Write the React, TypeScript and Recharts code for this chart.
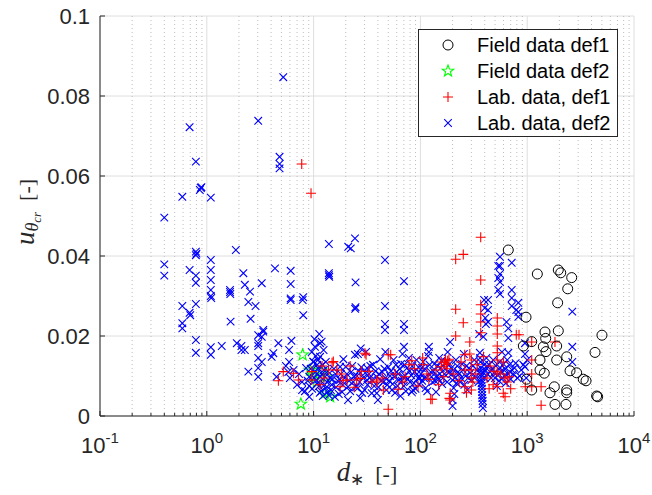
import React from 'react';
import { ScatterChart, Scatter, XAxis, YAxis, CartesianGrid } from 'recharts';

// ---------- ticks ----------
const xMajorTicks = [0.1, 1, 10, 100, 1000, 10000];
const xTickExponents = ['-1', '0', '1', '2', '3', '4'];
const minorMultipliers = [2, 3, 4, 5, 6, 7, 8, 9];
const xMinorTicks = xMajorTicks.slice(0, -1).flatMap((d) => minorMultipliers.map((m) => d * m));
const xAllTicks = [...xMajorTicks, ...xMinorTicks];
const yTicks = [0, 0.02, 0.04, 0.06, 0.08, 0.1];
const yTickLabels = ['0', '0.02', '0.04', '0.06', '0.08', '0.1'];

// ---------- data: [d*, u_theta_cr] ----------
const fieldDef1: [number, number][] = [
  [665, 0.0415], [1244, 0.0355], [1955, 0.0365], [2060, 0.0358], [2610, 0.0346], [2395, 0.0318],
  [1928, 0.0283], [975, 0.0247], [1468, 0.021], [1955, 0.0213], [1490, 0.0194], [5012, 0.0202],
  [920, 0.0175], [1102, 0.0186], [1416, 0.0173], [1500, 0.0161], [1888, 0.0175], [1318, 0.014],
  [1888, 0.014], [2344, 0.0148], [4315, 0.0159], [1318, 0.0115], [1446, 0.0107], [2518, 0.0113],
  [2904, 0.0108], [3350, 0.0092], [3554, 0.0088], [985, 0.0092], [1102, 0.0065], [1634, 0.0058],
  [1794, 0.0073], [2344, 0.0065], [2344, 0.0058], [4467, 0.005], [4570, 0.0048], [1820, 0.0029],
  [2307, 0.0029],
];

const fieldDef2: [number, number][] = [
  [7.9, 0.0153], [7.6, 0.003], [9.9, 0.01], [9.25, 0.0115], [12.8, 0.0057], [10.7, 0.0085],
  [11.8, 0.0115], [10.4, 0.0115], [13.3, 0.0098], [14.3, 0.0048],
];

const labDef1: [number, number][] = [
  [7.74, 0.063], [9.46, 0.0557],
  [367, 0.0447], [214, 0.0392], [252, 0.0404], [367, 0.034], [214, 0.0267], [252, 0.0233], [214, 0.02],
  [367, 0.0278], [367, 0.0255], [367, 0.0235], [367, 0.0208],
  [31, 0.0153], [52.7, 0.0153], [50, 0.0017], [129, 0.0042], [187, 0.0044], [15.3, 0.0136],
  [525, 0.0245], [525, 0.0225], [525, 0.0205], [525, 0.0175], [525, 0.0158], [525, 0.014], [525, 0.011], [525, 0.0073],
  [838, 0.0203], [1102, 0.0185], [1820, 0.0185], [1102, 0.014], [1102, 0.0105], [1102, 0.0073],
  [1350, 0.0073], [1350, 0.0027], [960, 0.0073], [597, 0.0057],
  [4.68, 0.0088], [5.2, 0.0111], [6.5, 0.0107], [7.2, 0.009], [9.6, 0.0111], [9.6, 0.009], [11.5, 0.0078],
  [14.9, 0.0133], [16.5, 0.0115], [17.7, 0.0073], [20.6, 0.009], [25.3, 0.009], [30.3, 0.0157],
  [27.3, 0.0094], [35, 0.0085], [39, 0.009],
  [290, 0.0185], [290, 0.0155], [260, 0.0153], [260, 0.0115], [260, 0.0073], [300, 0.014], [300, 0.0115],
  [300, 0.0095], [300, 0.0065],
  [157, 0.0135], [157, 0.0123], [168, 0.0133], [190, 0.0057], [190, 0.004], [125, 0.0042], [50, 0.0153],
  [78, 0.0128], [107, 0.0128], [39, 0.0085], [62, 0.0067],
  [790, 0.0203], [620, 0.0095], [620, 0.0048],
  [12.5, 0.0095], [13.8, 0.0115], [18.2, 0.0105], [22, 0.0125], [33, 0.0112], [44, 0.0095], [58, 0.0105],
  [68, 0.0085], [88, 0.0118], [95, 0.0075], [115, 0.0105], [140, 0.0115], [165, 0.0098], [175, 0.0128],
  [180, 0.0138], [172, 0.014], [230, 0.0088], [330, 0.0105], [420, 0.0095], [450, 0.0125], [480, 0.0078],
  [560, 0.0105], [650, 0.0085], [700, 0.0068],
  [105, 0.0145], [120, 0.0092], [148, 0.0078], [178, 0.0118], [185, 0.0142], [205, 0.0105], [240, 0.0135],
  [270, 0.0058], [310, 0.0085], [340, 0.0128], [390, 0.0148], [440, 0.0068], [490, 0.0112], [600, 0.0135],
  [680, 0.0098], [24, 0.0072], [28, 0.0112], [19, 0.0088], [12, 0.0125], [45, 0.0065], [72, 0.0098],
  [83, 0.0138],
];

const labDef2: [number, number][] = [
  // upper / left scatter
  [0.69, 0.0722], [3.03, 0.0738], [5.2, 0.0847], [0.79, 0.0636], [0.88, 0.057], [0.86, 0.0565], [0.89, 0.0572],
  [0.59, 0.0548], [1.09, 0.0546], [0.4, 0.0496], [4.8, 0.0648], [4.8, 0.063], [4.8, 0.0619],
  [0.79, 0.0411], [0.8, 0.0406], [0.79, 0.0402], [1.87, 0.0415], [0.4, 0.0379], [0.4, 0.0351],
  [0.69, 0.0365], [0.79, 0.0351], [0.79, 0.0333],
  [1.09, 0.039], [1.09, 0.0365], [1.09, 0.034], [1.09, 0.0315], [1.09, 0.03], [1.1, 0.0295],
  [1.65, 0.0315], [1.65, 0.031], [1.66, 0.0305], [2.2, 0.0357], [2.27, 0.0328], [3.27, 0.0332],
  [2.54, 0.0311], [2.45, 0.0285], [2.86, 0.0275], [2.57, 0.0243], [1.67, 0.0236],
  [0.59, 0.0275], [0.69, 0.0258], [0.7, 0.0252], [0.79, 0.028], [0.59, 0.0232], [0.59, 0.0219],
  [0.79, 0.019], [0.79, 0.0158], [1.09, 0.0172], [1.09, 0.0153], [1.38, 0.0175], [1.91, 0.0182],
  [2.11, 0.0165], [3.03, 0.0182], [3.38, 0.0215], [3.27, 0.0198], [4.35, 0.0369],
  [6.1, 0.0363], [6.1, 0.033], [6.1, 0.0294], [6.1, 0.029], [8.0, 0.0297], [8.0, 0.0252], [7.9, 0.029],
  [13.9, 0.043], [21.1, 0.0423], [13.9, 0.0357], [13.9, 0.0352], [14.0, 0.0348], [24.4, 0.0444],
  [22.3, 0.0419], [46.6, 0.039], [24.7, 0.0334], [70.2, 0.0337], [24.7, 0.0272], [24.5, 0.0268],
  [46.6, 0.0275], [46.6, 0.023], [46.6, 0.0215], [70.2, 0.023], [70.2, 0.0215], [70.2, 0.0173],
  // 2 - 7
  [2.11, 0.0175], [2.27, 0.0165], [3.03, 0.0202], [3.03, 0.0175], [3.38, 0.0211], [3.03, 0.0145],
  [3.03, 0.012], [3.03, 0.0098], [3.27, 0.0135], [2.45, 0.0111], [4.05, 0.0148], [4.2, 0.0157],
  [4.68, 0.0182], [5.9, 0.0165], [5.9, 0.0135], [6.2, 0.0188], [4.5, 0.0098], [5.8, 0.011],
  [5.5, 0.0125], [6, 0.0095], [6.5, 0.0115], [7, 0.0078], [7.3, 0.0105], [8.5, 0.012], [8.8, 0.0088],
  [8.3, 0.0062], [9.4, 0.0118], [9.7, 0.0068],
  // 7 - 20
  [7.8, 0.0085], [7.8, 0.0065], [9.1, 0.0098], [9.1, 0.0075], [9.1, 0.0048], [10.3, 0.0173], [10.5, 0.015],
  [10.8, 0.0128], [11.5, 0.0182], [11.5, 0.0148], [11, 0.014], [10.4, 0.011], [10.6, 0.009], [11.2, 0.0075],
  [11.8, 0.0062], [12.2, 0.005], [12.5, 0.0115], [12.8, 0.0098], [13.3, 0.0085], [13.0, 0.007], [12.0, 0.0105],
  [11.0, 0.012], [13.5, 0.006], [14.2, 0.0095], [14.8, 0.0078], [10.0, 0.0135], [9.6, 0.016], [10.2, 0.0192],
  [11.3, 0.0205], [12.4, 0.0165], [13.0, 0.0135], [11.9, 0.0186], [9.9, 0.0136],
  [10.1, 0.0095], [10.9, 0.0082], [11.6, 0.0098], [12.1, 0.0128], [12.7, 0.0078], [13.6, 0.0112],
  [14.5, 0.0065], [15, 0.0092], [15.5, 0.0118], [16.2, 0.0072], [16.8, 0.0088], [17.2, 0.0055], [18, 0.0105],
  [18.8, 0.0078], [19.5, 0.0095], [10.7, 0.0105], [11.4, 0.0058], [13.9, 0.0052], [15.8, 0.0048],
  // 20 - 100
  [17.7, 0.0123], [17.7, 0.009], [20, 0.0123], [21, 0.0073], [21, 0.004], [24.4, 0.0153], [27.3, 0.0045],
  [31.6, 0.012], [31.6, 0.009], [35, 0.009], [35, 0.0057], [39, 0.0098], [39, 0.0057], [16, 0.0105],
  [18.5, 0.006], [19, 0.0142], [22.5, 0.011], [23.5, 0.0085], [25.5, 0.01], [26, 0.007], [28, 0.0122],
  [29, 0.0095], [30, 0.0065], [33, 0.0105], [36, 0.0128], [37, 0.0075], [42, 0.0142], [44, 0.011],
  [45, 0.0085], [48, 0.0065], [50, 0.0122], [52, 0.01], [55, 0.008], [58, 0.0058], [60, 0.011],
  [63, 0.009], [66, 0.013], [70, 0.0075], [72, 0.01], [75, 0.012], [80, 0.0085], [85, 0.0065],
  [88, 0.011], [92, 0.014], [95, 0.0095], [98, 0.0078], [40, 0.004], [26, 0.0155], [47, 0.016],
  [56, 0.014], [68, 0.0155], [78, 0.0145], [83, 0.006], [65, 0.005], [27.6, 0.0169], [31, 0.016],
  [20.5, 0.0105], [21.5, 0.0088], [22, 0.0062], [23, 0.0125], [24, 0.0098], [25, 0.0072], [26.5, 0.0112],
  [27, 0.0085], [28.5, 0.0058], [30.5, 0.0108], [32, 0.0078], [33.5, 0.0095], [34, 0.0125], [38, 0.0112],
  [40.5, 0.0072], [41, 0.0105], [43, 0.0088], [46, 0.0118], [47, 0.0095], [49, 0.0078],
  [51, 0.0088], [53, 0.0112], [54, 0.0065], [57, 0.0098], [59, 0.0128], [61, 0.0075], [62, 0.0105],
  [64, 0.0118], [67, 0.0088], [69, 0.0098], [71, 0.0128], [73, 0.0062], [76, 0.0092], [79, 0.0112],
  [82, 0.0102], [84, 0.0125], [87, 0.0082], [90, 0.0068], [93, 0.0105], [96, 0.0122], [99, 0.0095],
  // 100 - 1000
  [103, 0.012], [108, 0.0095], [112, 0.007], [118, 0.015], [120, 0.0173], [120, 0.016], [125, 0.011],
  [130, 0.0085], [135, 0.013], [140, 0.006], [142, 0.01], [150, 0.0145], [155, 0.012], [160, 0.008],
  [168, 0.0105], [175, 0.0135], [180, 0.016], [190, 0.0185], [195, 0.012], [200, 0.009], [200, 0.004],
  [200, 0.0025], [205, 0.007], [215, 0.014], [225, 0.011], [235, 0.0085], [245, 0.013], [255, 0.0155],
  [265, 0.01], [275, 0.0065], [285, 0.012], [300, 0.009], [320, 0.014], [340, 0.0115], [355, 0.0205],
  [360, 0.0158], [365, 0.0135], [368, 0.012], [370, 0.0105], [372, 0.009], [375, 0.0075], [378, 0.006],
  [380, 0.0045], [382, 0.003], [385, 0.002], [388, 0.0198], [395, 0.029], [400, 0.027], [405, 0.0245],
  [410, 0.023], [420, 0.0125], [430, 0.029], [430, 0.0265], [430, 0.0235], [450, 0.011], [480, 0.014],
  [500, 0.0095], [520, 0.0075], [536, 0.0375], [536, 0.0345], [536, 0.0315], [556, 0.0398], [556, 0.0375],
  [556, 0.0355], [556, 0.0335], [556, 0.0305], [560, 0.012], [580, 0.016], [600, 0.013], [610, 0.01],
  [640, 0.0235], [650, 0.014], [666, 0.0219], [666, 0.0195], [666, 0.0158], [690, 0.011], [716, 0.0383],
  [716, 0.0315], [716, 0.0295], [716, 0.0275], [760, 0.012], [790, 0.0265], [826, 0.0283], [826, 0.026],
  [826, 0.0248], [850, 0.01], [953, 0.0182], [953, 0.0155], [953, 0.0123], [980, 0.0095], [1000, 0.014],
  [101, 0.0105], [104, 0.0088], [106, 0.0135], [110, 0.0118], [114, 0.0095], [116, 0.0062], [122, 0.0128],
  [127, 0.0098], [132, 0.0112], [137, 0.0088], [145, 0.0125], [148, 0.0092], [152, 0.0105], [158, 0.0138],
  [163, 0.0095], [171, 0.0118], [178, 0.0085], [184, 0.0108], [188, 0.013], [197, 0.0105], [203, 0.0115],
  [208, 0.0055], [210, 0.0095], [218, 0.0082], [222, 0.0125], [230, 0.0105], [240, 0.0095], [250, 0.0115],
  [258, 0.0078], [270, 0.0125], [280, 0.0095], [292, 0.0108],
  [310, 0.0125], [330, 0.0098], [350, 0.0085], [362, 0.0145], [366, 0.0112], [371, 0.0098], [374, 0.0082],
  [377, 0.0068], [379, 0.0052], [383, 0.0038], [390, 0.0108], [395, 0.0128], [400, 0.0095], [405, 0.0115],
  [415, 0.0145], [425, 0.0105], [440, 0.0128], [460, 0.0095], [470, 0.0118], [490, 0.0108], [510, 0.0125],
  [530, 0.0102], [545, 0.0088], [550, 0.0135], [570, 0.0112], [590, 0.0095], [620, 0.0118], [630, 0.0082],
  [660, 0.0105], [680, 0.0128], [700, 0.0092], [720, 0.0115], [740, 0.0105], [780, 0.0132], [810, 0.0095],
  [880, 0.0115], [920, 0.0128],
  // > 1000
  [2644, 0.0261], [2644, 0.0173], [2644, 0.0135],
];

const legendLabels = ['Field data def1', 'Field data def2', 'Lab. data, def1', 'Lab. data, def2'];

const toPts = (arr: [number, number][]) => arr.map(([x, y]) => ({ x, y }));

// ---------- style ----------
const AXIS = '#262626';
const SANS = '"Liberation Sans", Arial, Helvetica, sans-serif';
const SERIF = '"Liberation Serif", "Times New Roman", serif';

const isMajorX = (v: number) => xMajorTicks.findIndex((t) => Math.abs(Math.log10(t) - Math.log10(v)) < 1e-6);

// ---------- marker shapes ----------
const CircleMark = (p: any) => <circle cx={p.cx} cy={p.cy} r={5} fill="none" stroke="#000" strokeWidth={1} />;
const PlusMark = (p: any) => (
  <path d={`M${p.cx - 5},${p.cy}H${p.cx + 5}M${p.cx},${p.cy - 5}V${p.cy + 5}`} stroke="#ff0000" strokeWidth={1.1} fill="none" />
);
const XMark = (p: any) => {
  const s = 3.8;
  return (
    <path
      d={`M${p.cx - s},${p.cy - s}L${p.cx + s},${p.cy + s}M${p.cx - s},${p.cy + s}L${p.cx + s},${p.cy - s}`}
      stroke="#0000ff"
      strokeWidth={1.1}
      fill="none"
    />
  );
};
const starPath = (cx: number, cy: number, R: number, r: number) => {
  const pts: string[] = [];
  for (let i = 0; i < 10; i++) {
    const a = -Math.PI / 2 + (i * Math.PI) / 5;
    const rr = i % 2 === 0 ? R : r;
    pts.push(`${(cx + rr * Math.cos(a)).toFixed(2)},${(cy + rr * Math.sin(a)).toFixed(2)}`);
  }
  return `M${pts.join('L')}Z`;
};
const StarMark = (p: any) => <path d={starPath(p.cx, p.cy, 6, 2.5)} stroke="#00ff00" strokeWidth={1.1} fill="none" />;

// ---------- tick renderers ----------
const BottomTick = (props: any) => {
  const { x, y, payload } = props;
  const idx = isMajorX(payload.value);
  return (
    <g>
      <line x1={x} y1={y} x2={x} y2={y - (idx >= 0 ? 5 : 3)} stroke={AXIS} strokeWidth={1} />
      {idx >= 0 && (
        <text x={x} y={y + 37} textAnchor="middle" fontFamily={SANS} fontSize={22} fill={AXIS}>
          10
          <tspan fontSize={15} dy={-10}>
            {xTickExponents[idx]}
          </tspan>
        </text>
      )}
    </g>
  );
};
const TopTick = (props: any) => {
  const { x, y, payload } = props;
  const idx = isMajorX(payload.value);
  return <line x1={x} y1={y} x2={x} y2={y + (idx >= 0 ? 5 : 3)} stroke={AXIS} strokeWidth={1} />;
};
const LeftTick = (props: any) => {
  const { x, y, payload } = props;
  const i = yTicks.findIndex((t) => Math.abs(t - payload.value) < 1e-9);
  return (
    <g>
      <line x1={x} y1={y} x2={x + 5} y2={y} stroke={AXIS} strokeWidth={1} />
      <text x={x - 10} y={y + 8} textAnchor="end" fontFamily={SANS} fontSize={22} fill={AXIS}>
        {yTickLabels[i]}
      </text>
    </g>
  );
};
const RightTick = (props: any) => {
  const { x, y } = props;
  return <line x1={x} y1={y} x2={x - 5} y2={y} stroke={AXIS} strokeWidth={1} />;
};

const legendMarks = [
  (cx: number, cy: number) => <CircleMark cx={cx} cy={cy} />,
  (cx: number, cy: number) => <StarMark cx={cx} cy={cy} />,
  (cx: number, cy: number) => <PlusMark cx={cx} cy={cy} />,
  (cx: number, cy: number) => <XMark cx={cx} cy={cy} />,
];

export default function App() {
  return (
    <div style={{ position: 'relative', width: 652, height: 495, background: '#fff' }}>
      <style>{'body{margin:0;background:#fff}'}</style>
      <ScatterChart width={652} height={495} margin={{ top: 16, right: 18, bottom: 0, left: 0 }}>
        <CartesianGrid stroke="#dedede" strokeWidth={1} verticalValues={xMajorTicks} horizontalValues={yTicks} />
        <CartesianGrid stroke="#bdbdbd" strokeWidth={1} strokeDasharray="1 3" verticalValues={xMinorTicks} horizontal={false} />
        <XAxis
          dataKey="x"
          type="number"
          scale="log"
          domain={[0.1, 10000]}
          allowDataOverflow
          ticks={xAllTicks}
          interval={0}
          height={79}
          tickSize={0}
          tickMargin={0}
          tick={<BottomTick />}
          axisLine={{ stroke: AXIS, strokeWidth: 1 }}
          tickLine={false}
        />
        <XAxis
          xAxisId="top"
          orientation="top"
          dataKey="x"
          type="number"
          scale="log"
          domain={[0.1, 10000]}
          allowDataOverflow
          ticks={xAllTicks}
          interval={0}
          height={0}
          tickSize={0}
          tickMargin={0}
          tick={<TopTick />}
          axisLine={{ stroke: AXIS, strokeWidth: 1 }}
          tickLine={false}
        />
        <YAxis
          dataKey="y"
          type="number"
          domain={[0, 0.1]}
          allowDataOverflow
          ticks={yTicks}
          interval={0}
          width={100}
          tickSize={0}
          tickMargin={0}
          tick={<LeftTick />}
          axisLine={{ stroke: AXIS, strokeWidth: 1 }}
          tickLine={false}
        />
        <YAxis
          yAxisId="right"
          orientation="right"
          dataKey="y"
          type="number"
          domain={[0, 0.1]}
          allowDataOverflow
          ticks={yTicks}
          interval={0}
          width={0}
          tickSize={0}
          tickMargin={0}
          tick={<RightTick />}
          axisLine={{ stroke: AXIS, strokeWidth: 1 }}
          tickLine={false}
        />
        <Scatter name={legendLabels[1]} data={toPts(fieldDef2)} shape={StarMark} isAnimationActive={false} />
        <Scatter name={legendLabels[3]} data={toPts(labDef2)} shape={XMark} isAnimationActive={false} />
        <Scatter name={legendLabels[2]} data={toPts(labDef1)} shape={PlusMark} isAnimationActive={false} />
        <Scatter name={legendLabels[0]} data={toPts(fieldDef1)} shape={CircleMark} isAnimationActive={false} />
      </ScatterChart>
      <svg width={652} height={495} style={{ position: 'absolute', left: 0, top: 0, pointerEvents: 'none' }}>
        {/* y label */}
        <text transform="translate(34,212) rotate(-90)" textAnchor="middle" fontFamily={SERIF} fill={AXIS}>
          <tspan fontStyle="italic" fontSize={27}>u</tspan>
          <tspan fontStyle="italic" fontSize={18} dy={4}>θ</tspan>
          <tspan fontStyle="italic" fontSize={13} dy={3}>cr</tspan>
          <tspan fontSize={22} dy={-7}>{'\u00a0\u00a0[-]'}</tspan>
        </text>
        {/* x label */}
        <text x={367} y={481} textAnchor="middle" fontFamily={SERIF} fill={AXIS}>
          <tspan fontStyle="italic" fontSize={27}>d</tspan>
          <tspan fontSize={17} dy={4}>∗</tspan>
          <tspan fontSize={22} dy={-4}>{'\u00a0\u00a0[-]'}</tspan>
        </text>
        {/* legend */}
        <rect x={418.5} y={29.5} width={199} height={107} fill="#fff" stroke={AXIS} strokeWidth={1} />
        {legendLabels.map((lab, i) => {
          const cy = 45 + i * 26;
          return (
            <g key={lab}>
              {legendMarks[i](448, cy)}
              <text x={477} y={cy + 7} fontFamily={SANS} fontSize={20} fill="#000">
                {lab}
              </text>
            </g>
          );
        })}
      </svg>
    </div>
  );
}
